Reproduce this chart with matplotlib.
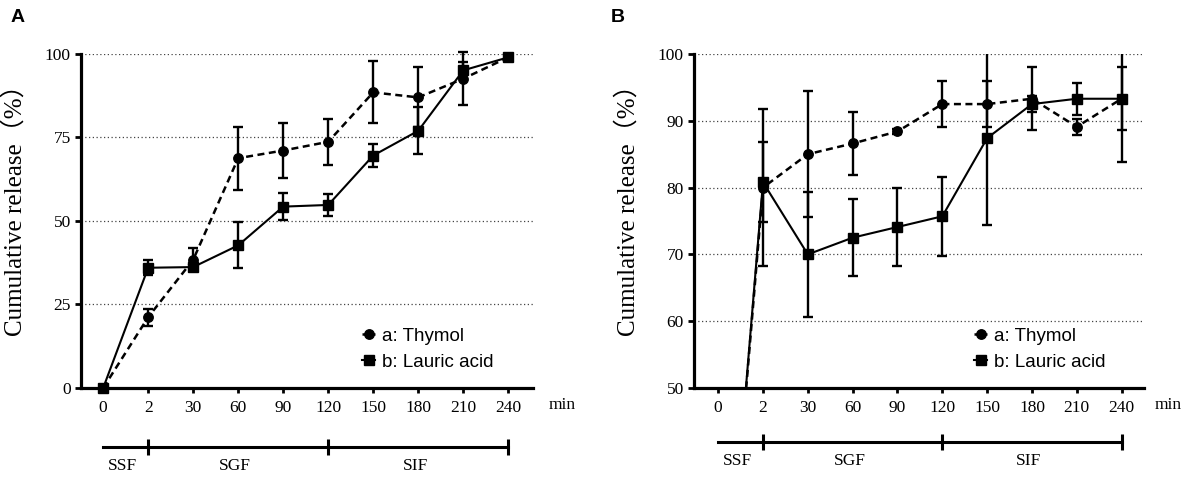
import numpy as np
import matplotlib
matplotlib.use("Agg")
import matplotlib.pyplot as plt
import matplotlib.transforms as mtransforms

# categorical time points (min)
times = ['0', '2', '30', '60', '90', '120', '150', '180', '210', '240']

# panel A
thymol_a = [0, 21.2, 38.4, 68.8, 71.1, 73.7, 88.5, 87.0, 92.6, 99.0]
thymol_a_err = [0, 2.5, 3.5, 9.4, 8.1, 6.9, 9.3, 9.0, 8.0, 0.5]
lauric_a = [0, 36.0, 36.2, 42.7, 54.3, 54.8, 69.6, 77.0, 95.1, 99.0]
lauric_a_err = [0, 2.2, 1.0, 6.9, 4.0, 3.4, 3.4, 7.0, 2.4, 0.5]

# panel B
thymol_b = [0, 80.0, 85.0, 86.6, 88.4, 92.5, 92.5, 93.3, 89.1, 93.3]
thymol_b_err = [0, 11.8, 9.4, 4.75, 0.4, 3.5, 3.5, 4.7, 1.2, 4.7]
lauric_b = [0, 80.8, 70.0, 72.5, 74.1, 75.7, 87.4, 92.5, 93.3, 93.3]
lauric_b_err = [0, 6.0, 9.3, 5.8, 5.9, 5.9, 13.0, 1.2, 2.4, 9.5]

# digestion phases: name, start index, end index
phases = [('SSF', 0, 1), ('SGF', 1, 5), ('SIF', 5, 9)]

serif = ['Liberation Serif', 'DejaVu Serif']
ylab_font = ['Liberation Serif', 'Noto Sans CJK SC', 'DejaVu Sans']
sans = ['Liberation Sans', 'DejaVu Sans']

fig = plt.figure(figsize=(12.04, 4.79), dpi=100)
axA = fig.add_axes([0.0670, 0.1900, 0.3757, 0.6973])
axB = fig.add_axes([0.5760, 0.1900, 0.3742, 0.6973])


def draw(ax, thy, thy_err, lau, lau_err, ylim, yticks, xlim, clip, brk_y, txt_y, min_x):
    x = np.arange(len(times))
    l1 = ax.errorbar(x, thy, yerr=thy_err, color='black', lw=1.8, ls=(0, (2.8, 1.8)),
                     marker='o', ms=6.8, elinewidth=1.7, capsize=3.6, capthick=1.7,
                     zorder=3, clip_on=clip)
    l2 = ax.errorbar(x, lau, yerr=lau_err, color='black', lw=1.5, marker='s', ms=7,
                     elinewidth=1.7, capsize=3.6, capthick=1.7, zorder=4, clip_on=clip)
    ax.set_xlim(*xlim)
    ax.set_ylim(*ylim)
    ax.set_yticks(yticks)
    ax.set_yticklabels([str(v) for v in yticks], fontfamily=serif, fontsize=12.5)
    ax.set_xticks(x)
    ax.set_xticklabels(times, fontfamily=serif, fontsize=12.5)
    ax.tick_params(axis='y', length=4, width=2, pad=3)
    ax.tick_params(axis='x', length=3.5, width=2, pad=5)
    for s in ['top', 'right']:
        ax.spines[s].set_visible(False)
    ax.spines['left'].set_linewidth(2.3)
    ax.spines['bottom'].set_linewidth(2.3)
    ax.yaxis.grid(True, linestyle=(0, (1, 2)), color='#444444', lw=0.9)
    ax.set_axisbelow(True)

    ax.set_ylabel('Cumulative release（%）', fontfamily=ylab_font, fontsize=18)
    ax.yaxis.set_label_coords(-0.12, 0.55)

    ax.text(min_x, -0.052, 'min', transform=ax.transAxes, ha='center', va='center',
            fontfamily=serif, fontsize=12.5)

    # phase bracket below the axis
    trans = mtransforms.blended_transform_factory(ax.transData, ax.transAxes)
    ax.plot([phases[0][1], phases[-1][2]], [brk_y, brk_y], color='black', lw=2.2,
            transform=trans, clip_on=False)
    ends = [p[2] for p in phases]
    ax.plot(ends, [brk_y] * len(ends), ls='none', marker='|', ms=11, mew=2.2,
            color='black', transform=trans, clip_on=False)
    for name, a, b in phases:
        ax.text((a + b) / 2 - 0.07, txt_y, name, transform=trans, ha='center',
                va='center', fontfamily=serif, fontsize=12.5)

    ax.legend([l1.lines[0], l2.lines[0]], ['a: Thymol', 'b: Lauric acid'],
              loc='upper left', bbox_to_anchor=(0.585, 0.232), frameon=False,
              handlelength=0.7, handletextpad=0.35, labelspacing=0.5,
              prop={'family': sans, 'size': 13.5})


draw(axA, thymol_a, thymol_a_err, lauric_a, lauric_a_err, (0, 100), [0, 25, 50, 75, 100],
     (-0.5, 9.55), False, -0.177, -0.234, 1.064)
draw(axB, thymol_b, thymol_b_err, lauric_b, lauric_b_err, (50, 100), [50, 60, 70, 80, 90, 100],
     (-0.55, 9.5), True, -0.161, -0.219, 1.053)

fig.text(18 / 1204, 1 - 18 / 479, 'A', fontfamily=sans, fontweight='bold', fontsize=14,
         ha='center', va='center')
fig.text(618 / 1204, 1 - 18 / 479, 'B', fontfamily=sans, fontweight='bold', fontsize=14,
         ha='center', va='center')

fig.savefig('out.png', dpi=100)
